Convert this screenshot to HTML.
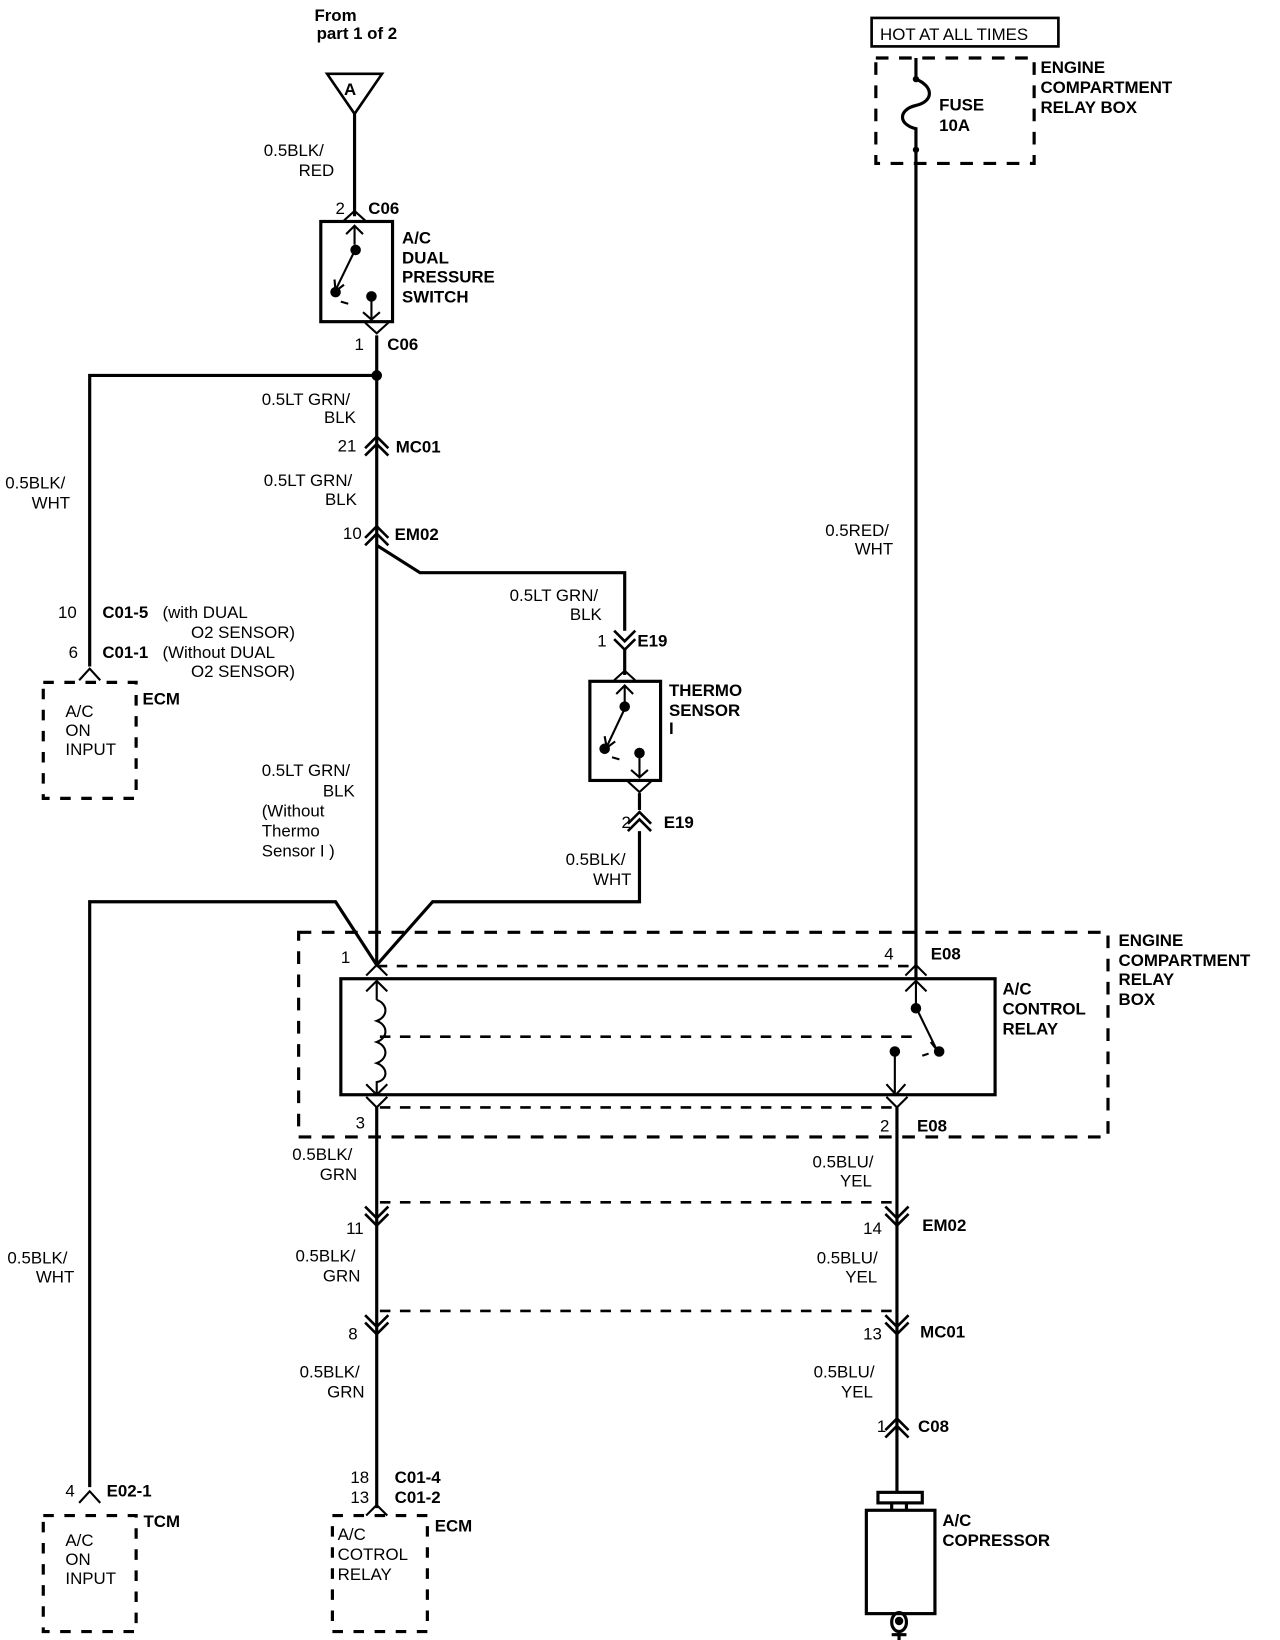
<!DOCTYPE html>
<html><head><meta charset="utf-8"><style>
html,body{margin:0;padding:0;background:#fff;width:1280px;height:1640px;overflow:hidden}
svg{display:block}
text{font-family:"Liberation Sans",Arial,sans-serif;font-size:16px;fill:#000}
.b{font-weight:bold}
</style></head><body>
<svg width="1280" height="1640" viewBox="0 0 1213 1555" preserveAspectRatio="none">
<g fill="none" stroke="#000" stroke-width="3">
<!-- top connector A -->
<path d="M310,70 L362,70 L336,108 Z" stroke-width="2.5"/>
<path d="M336,108 V205"/>
<!-- dual pressure switch -->
<rect x="304" y="210" width="68" height="95"/>
<path d="M326,209 L336,200 L346,209" stroke-width="2"/>
<path d="M336,214 V232" stroke-width="2"/><path d="M328,222 L336,214 L344,222" stroke-width="2"/>
<path d="M336,238 L318,275" stroke-width="2"/><path d="M317,265 L318,276 L326,270" stroke-width="2"/>
<path d="M323,286 L330,288" stroke-width="2"/>
<path d="M352,282 V302" stroke-width="2"/><path d="M344,296 L352,303 L360,296" stroke-width="2"/>
<path d="M346,306 L357,316 L368,306" stroke-width="2"/>
<path d="M357,318 V915"/>
<path d="M357,356 H85 V632"/>
<path d="M75,645 L85,634 L95,645" stroke-width="2"/>
<!-- MC01/EM02 chevrons -->
<path d="M346,425 L357,414 L368,425 M346,432 L357,421 L368,432" stroke-width="2.5"/>
<path d="M346,510 L357,499 L368,510 M346,517 L357,506 L368,517" stroke-width="2.5"/>
<path d="M357,517 L398,543 H592 V598"/>
<path d="M582,598 L592,608 L602,598 M582,606 L592,616 L602,606" stroke-width="2.5"/>
<path d="M592,616 V640"/>
<!-- thermo sensor -->
<rect x="559" y="646" width="67" height="94"/>
<path d="M582,645 L592,636 L602,645" stroke-width="2"/>
<path d="M592,650 V668" stroke-width="2"/><path d="M584,658 L592,650 L600,658" stroke-width="2"/>
<path d="M592,672 L575,708" stroke-width="2"/><path d="M573,698 L575,709 L583,703" stroke-width="2"/>
<path d="M580,718 L587,720" stroke-width="2"/>
<path d="M606,716 V736" stroke-width="2"/><path d="M598,730 L606,737 L614,730" stroke-width="2"/>
<path d="M595,741 L606,751 L617,741" stroke-width="2"/>
<path d="M606,752 V768"/>
<path d="M595,781 L606,770 L617,781 M595,788 L606,777 L617,788" stroke-width="2.5"/>
<path d="M606,788 V855 H410 L357,915"/>
<path d="M85,1410 V855 H318 L357,915"/>
<path d="M75,1425 L85,1414 L95,1425" stroke-width="2"/>
<!-- fuse box -->
<rect x="830" y="55" width="150" height="100" stroke-dasharray="12,10"/>
<rect x="826" y="17" width="177" height="27" stroke-width="2.5"/>
<path d="M868,55 V75 C885,82 885,96 868,100 C851,104 851,118 868,122 V928"/>
<!-- outer relay dashed box -->
<rect x="283" y="884" width="767" height="194" stroke-dasharray="12,10"/>
<rect x="323" y="928" width="620" height="110"/>
<path d="M357,916 H866 M360,983 H866 M360,1050 H848" stroke-dasharray="10,9" stroke-width="2.5"/>
<path d="M347,925 L357,915 L367,925 M858,925 L868,915 L878,925" stroke-width="2"/>
<path d="M357,930 V948 M347,940 L357,930 L367,940" stroke-width="2"/>
<path d="M357,948 C368,952 368,964 357,968 C368,972 368,984 357,988 C368,992 368,1004 357,1008 C368,1012 368,1024 357,1026 V1038 M347,1028 L357,1038 L367,1028" stroke-width="2"/>
<path d="M868,930 V955 M858,940 L868,930 L878,940" stroke-width="2"/>
<path d="M868,955 L888,996 M882,988 L889,997" stroke-width="2"/>
<path d="M874,1001 L880,999" stroke-width="2"/>
<path d="M848,997 V1037 M840,1028 L849,1038 L858,1028" stroke-width="2"/>
<path d="M347,1040 L357,1050 L367,1040 M840,1040 L850,1050 L860,1040" stroke-width="2"/>
<path d="M357,1050 V1430"/>
<path d="M850,1050 V1415"/>
<path d="M360,1140 H846 M360,1243 H846" stroke-dasharray="10,9" stroke-width="2.5"/>
<path d="M346,1144 L357,1155 L368,1144 M346,1151 L357,1162 L368,1151 M839,1144 L850,1155 L861,1144 M839,1151 L850,1162 L861,1151" stroke-width="2.5"/>
<path d="M346,1247 L357,1258 L368,1247 M346,1254 L357,1265 L368,1254 M839,1247 L850,1258 L861,1247 M839,1254 L850,1265 L861,1254" stroke-width="2.5"/>
<path d="M839,1356 L850,1345 L861,1356 M839,1363 L850,1352 L861,1363" stroke-width="2.5"/>
<path d="M347,1437 L357,1427 L367,1437" stroke-width="2"/>
<!-- bottom boxes -->
<rect x="41" y="1437" width="88" height="110" stroke-dasharray="10,10"/>
<rect x="315" y="1437" width="90" height="110" stroke-dasharray="10,10"/>
<rect x="41" y="647" width="88" height="110" stroke-dasharray="10,10"/>
<!-- compressor -->
<rect x="832" y="1415" width="42" height="10"/>
<path d="M845,1425 V1432 M859,1425 V1432"/>
<rect x="821" y="1432" width="65" height="98"/>
<ellipse cx="852" cy="1538" rx="7" ry="9"/>
<path d="M852,1548 V1555 M845,1550 H859"/>
</g>
<g fill="#000">
<circle cx="357" cy="356" r="5"/>
<circle cx="337" cy="237" r="5"/><circle cx="318" cy="277" r="5"/><circle cx="352" cy="281" r="5"/>
<circle cx="592" cy="670" r="5"/><circle cx="573" cy="710" r="5"/><circle cx="606" cy="714" r="5"/>
<circle cx="868" cy="75" r="3"/><circle cx="868" cy="142" r="3"/>
<circle cx="868" cy="956" r="5"/><circle cx="890" cy="997" r="5"/><circle cx="848" cy="997" r="5"/>
<circle cx="852" cy="1537" r="4"/>
</g>
<text class="b" x="326" y="90" font-size="15">A</text>
<text x="298" y="20" class="b">From</text>
<text x="300" y="37" class="b" font-size="15">part 1 of 2</text>
<text x="250" y="148">0.5BLK/</text><text x="283" y="167">RED</text>
<text x="318" y="203">2</text><text class="b" x="349" y="203">C06</text>
<text class="b" x="381" y="231">A/C</text><text class="b" x="381" y="250">DUAL</text><text class="b" x="381" y="268">PRESSURE</text><text class="b" x="381" y="287">SWITCH</text>
<text x="336" y="332">1</text><text class="b" x="367" y="332">C06</text>
<text x="248" y="384">0.5LT GRN/</text><text x="307" y="401">BLK</text>
<text x="320" y="428">21</text><text class="b" x="375" y="429">MC01</text>
<text x="250" y="461">0.5LT GRN/</text><text x="308" y="479">BLK</text>
<text x="325" y="511">10</text><text class="b" x="374" y="512">EM02</text>
<text x="5" y="463">0.5BLK/</text><text x="30" y="482">WHT</text>
<text x="55" y="586">10</text><text class="b" x="97" y="586">C01-5</text><text x="154" y="586">(with DUAL</text>
<text x="181" y="605">O2 SENSOR)</text>
<text x="65" y="624">6</text><text class="b" x="97" y="624">C01-1</text><text x="154" y="624">(Without DUAL</text>
<text x="181" y="642">O2 SENSOR)</text>
<text class="b" x="135" y="668">ECM</text>
<text x="62" y="680">A/C</text><text x="62" y="698">ON</text><text x="62" y="716">INPUT</text>
<text x="483" y="570">0.5LT GRN/</text><text x="540" y="588">BLK</text>
<text x="566" y="613">1</text><text class="b" x="604" y="613">E19</text>
<text class="b" x="634" y="660">THERMO</text><text class="b" x="634" y="679">SENSOR</text><text class="b" x="634" y="696">I</text>
<text x="589" y="785">2</text><text class="b" x="629" y="785">E19</text>
<text x="536" y="820">0.5BLK/</text><text x="562" y="839">WHT</text>
<text x="248" y="736">0.5LT GRN/</text><text x="306" y="755">BLK</text>
<text x="248" y="774">(Without</text><text x="248" y="793">Thermo</text><text x="248" y="812">Sensor I )</text>
<text x="782" y="508">0.5RED/</text><text x="810" y="526">WHT</text>
<text x="834" y="38">HOT AT ALL TIMES</text>
<text class="b" x="890" y="105">FUSE</text><text class="b" x="890" y="124">10A</text>
<text class="b" x="986" y="69">ENGINE</text><text class="b" x="986" y="88">COMPARTMENT</text><text class="b" x="986" y="107">RELAY BOX</text>
<text class="b" x="1060" y="897">ENGINE</text><text class="b" x="1060" y="916">COMPARTMENT</text><text class="b" x="1060" y="934">RELAY</text><text class="b" x="1060" y="953">BOX</text>
<text class="b" x="950" y="943">A/C</text><text class="b" x="950" y="962">CONTROL</text><text class="b" x="950" y="981">RELAY</text>
<text x="323" y="913">1</text><text x="838" y="910">4</text><text class="b" x="882" y="910">E08</text>
<text x="337" y="1070">3</text><text x="834" y="1073">2</text><text class="b" x="869" y="1073">E08</text>
<text x="277" y="1100">0.5BLK/</text><text x="303" y="1119">GRN</text>
<text x="770" y="1107">0.5BLU/</text><text x="796" y="1125">YEL</text>
<text x="328" y="1170">11</text><text x="818" y="1170">14</text><text class="b" x="874" y="1167">EM02</text>
<text x="280" y="1196">0.5BLK/</text><text x="306" y="1215">GRN</text>
<text x="774" y="1198">0.5BLU/</text><text x="801" y="1216">YEL</text>
<text x="7" y="1198">0.5BLK/</text><text x="34" y="1216">WHT</text>
<text x="330" y="1270">8</text><text x="818" y="1270">13</text><text class="b" x="872" y="1268">MC01</text>
<text x="284" y="1306">0.5BLK/</text><text x="310" y="1325">GRN</text>
<text x="771" y="1306">0.5BLU/</text><text x="797" y="1325">YEL</text>
<text x="831" y="1358">1</text><text class="b" x="870" y="1358">C08</text>
<text x="62" y="1419">4</text><text class="b" x="101" y="1419">E02-1</text>
<text class="b" x="136" y="1448">TCM</text>
<text x="62" y="1466">A/C</text><text x="62" y="1484">ON</text><text x="62" y="1502">INPUT</text>
<text x="332" y="1406">18</text><text class="b" x="374" y="1406">C01-4</text>
<text x="332" y="1425">13</text><text class="b" x="374" y="1425">C01-2</text>
<text class="b" x="412" y="1452">ECM</text>
<text x="320" y="1460">A/C</text><text x="320" y="1479">COTROL</text><text x="320" y="1498">RELAY</text>
<text class="b" x="893" y="1447">A/C</text><text class="b" x="893" y="1466">COPRESSOR</text>
</svg>
</body></html>
